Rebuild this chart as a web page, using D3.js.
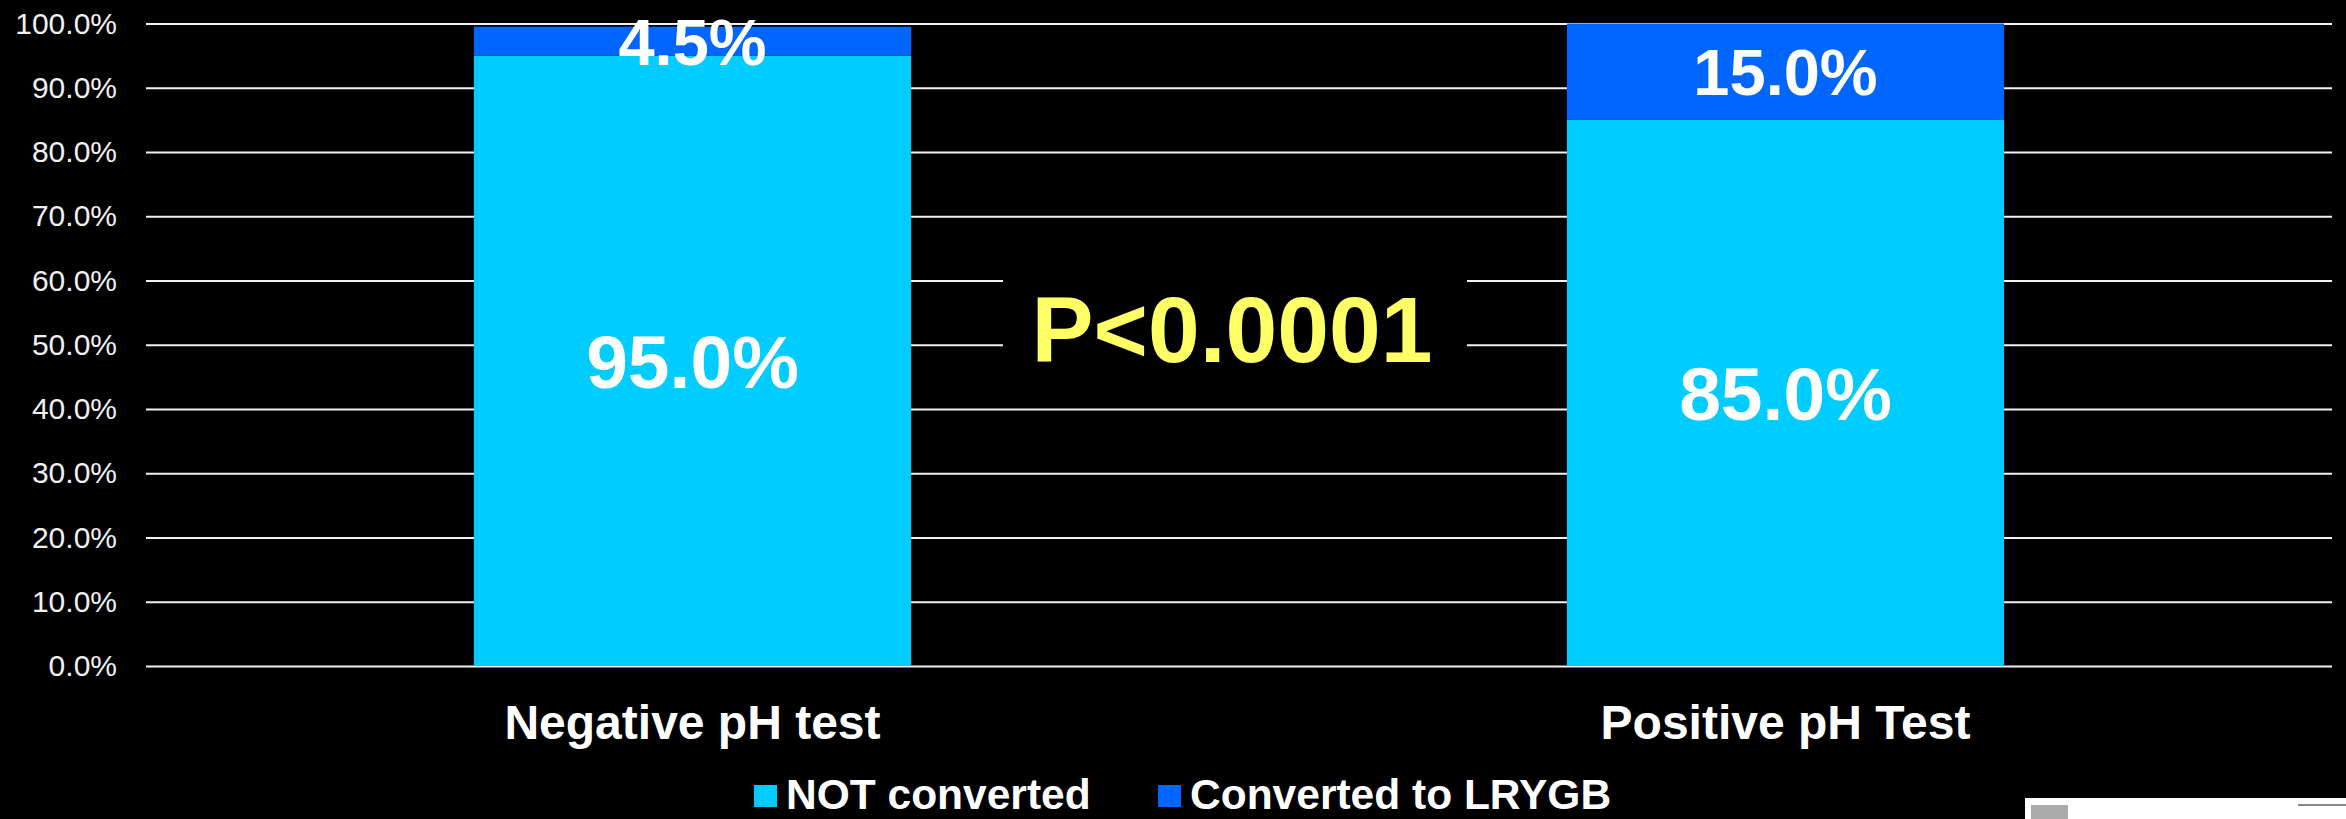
<!DOCTYPE html>
<html>
<head>
<meta charset="utf-8">
<script src="https://cdn.jsdelivr.net/npm/d3@7"></script>
<style>
  html, body { margin: 0; padding: 0; background: #000; }
  svg { display: block; }
  text { font-family: "Liberation Sans", Arial, sans-serif; }
</style>
</head>
<body>
<svg width="2346" height="819"></svg>
<script>
const width = 2346
const height = 819

const categories = ["Negative pH test", "Positive pH Test"]
const notConverted = [0.95, 0.85]
const converted = [0.045, 0.15]
const seriesNames = ["NOT converted", "Converted to LRYGB"]
const seriesColors = ["#00ccff", "#0066ff"]
const yTicks = [0, 0.1, 0.2, 0.3, 0.4, 0.5, 0.6, 0.7, 0.8, 0.9, 1.0]
const pValue = "P<0.0001"

const svg = d3.select("svg")

const x = d3.scaleBand()
  .domain(categories)
  .range([146, 2332])
  .paddingInner(0.6)
  .paddingOuter(0.3)

const y = d3.scaleLinear()
  .domain([0, 1])
  .range([666, 23.5])

const pct = d3.format(".1%")

// gridlines + y labels
const yAxis = d3.axisLeft(y)
  .tickValues(yTicks)
  .tickFormat(pct)
  .tickSize(-(2332 - 146))
  .tickPadding(29)

svg.append("g")
  .attr("transform", "translate(146,0)")
  .call(yAxis)
  .call(g => g.select(".domain").remove())
  .call(g => g.selectAll(".tick line").attr("stroke", "#f2f2f2").attr("stroke-width", 2))
  .call(g => g.selectAll(".tick text")
    .attr("fill", "#f0f0f0")
    .style("font-size", "30px")
    .style("font-family", "'Liberation Sans', Arial, sans-serif"))

// stacked bars
const rows = categories.map((c, i) => ({cat: c, a: notConverted[i], b: converted[i]}))
const stack = d3.stack().keys(["a", "b"])(rows)

const layers = svg.append("g")
  .selectAll("g")
  .data(stack)
  .join("g")
  .attr("fill", (d, i) => seriesColors[i])

layers.selectAll("rect")
  .data(d => d)
  .join("rect")
  .attr("x", d => x(d.data.cat))
  .attr("width", x.bandwidth())
  .attr("y", d => y(d[1]))
  .attr("height", d => y(d[0]) - y(d[1]))

// value labels (bottom segment labels are a bit bigger)
const labelSize = ["75px", "65px"]
layers.each(function (layer, li) {
  d3.select(this).selectAll("text")
    .data(layer)
    .join("text")
    .attr("x", d => x(d.data.cat) + x.bandwidth() / 2)
    .attr("y", d => (y(d[0]) + y(d[1])) / 2)
    .attr("dy", "0.36em")
    .attr("text-anchor", "middle")
    .attr("fill", "#fff")
    .style("font-size", labelSize[li])
    .style("font-weight", "bold")
    .text(d => pct(d[1] - d[0]))
})

// category labels
svg.append("g")
  .selectAll("text")
  .data(categories)
  .join("text")
  .attr("x", d => x(d) + x.bandwidth() / 2)
  .attr("y", 739)
  .attr("text-anchor", "middle")
  .attr("fill", "#fff")
  .style("font-size", "48px")
  .style("font-weight", "bold")
  .text(d => d)

// p-value box
svg.append("rect")
  .attr("x", 1003)
  .attr("y", 236)
  .attr("width", 464)
  .attr("height", 160)
  .attr("fill", "#000")

svg.append("text")
  .attr("x", 1232)
  .attr("y", 362)
  .attr("text-anchor", "middle")
  .attr("fill", "#ffff66")
  .style("font-size", "93px")
  .style("font-weight", "bold")
  .text(pValue)

// legend
const legendX = [754, 1158]
const items = svg.append("g")
  .selectAll("g")
  .data(seriesNames)
  .join("g")
  .attr("transform", (d, i) => `translate(${legendX[i]},0)`)

items.append("rect")
  .attr("y", 785)
  .attr("width", 23)
  .attr("height", 22)
  .attr("fill", (d, i) => seriesColors[i])

items.append("text")
  .attr("x", 32)
  .attr("y", 809)
  .attr("fill", "#fff")
  .style("font-size", "42.5px")
  .style("font-weight", "bold")
  .text(d => d)

// corner of the next slide peeking in
svg.append("rect")
  .attr("x", 2025).attr("y", 798)
  .attr("width", 321).attr("height", 21)
  .attr("fill", "#fff")
svg.append("rect")
  .attr("x", 2031).attr("y", 805)
  .attr("width", 37).attr("height", 14)
  .attr("fill", "#aaa")
svg.append("rect")
  .attr("x", 2298).attr("y", 804)
  .attr("width", 48).attr("height", 2)
  .attr("fill", "#888")
</script>
</body>
</html>
